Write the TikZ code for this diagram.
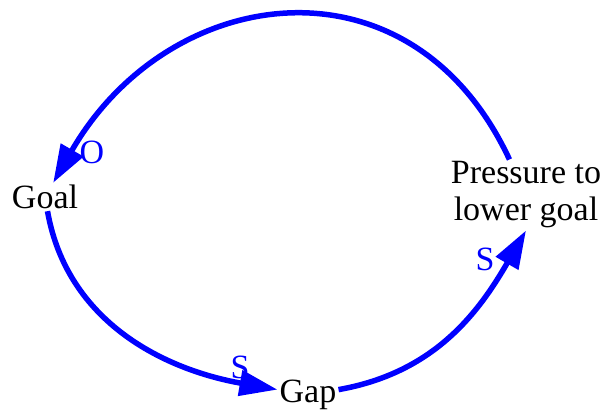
\documentclass[tikz,border=0pt]{standalone}
\usepackage{fontspec}
\setmainfont{Liberation Serif}
\usetikzlibrary{arrows.meta}

\begin{document}
\begin{tikzpicture}[
      x=1pt, y=1pt,
      var/.style={align=center, inner sep=2pt, font=\fontsize{34}{37}\selectfont},
      polarity/.style={text=blue, inner sep=0pt, font=\fontsize{34}{37}\selectfont},
      link/.style={draw=blue, line width=5.5pt, -{Triangle[length=38pt, width=25pt]}}
    ]
    \useasboundingbox (0,0) rectangle (606,415);
    \node[var] (goal) at (45,218) {Goal};
    \node[var] (gap) at (308,20) {Gap};
    \node[var] (pressure) at (526,220) {Pressure to\\lower goal};

    \node[polarity] (polO) at (92,263) {O};
    \node[polarity] (polS1) at (240,48) {S};
    \node[polarity] (polS2) at (485,156) {S};

    \draw[link] (pressure) to[out=115, in=60, looseness=1.3] (goal);
    \draw[link] (goal) to[out=-80, in=170] (gap);
    \draw[link] (gap) to[out=10, in=240] (pressure.south);
  \end{tikzpicture}
\end{document}
